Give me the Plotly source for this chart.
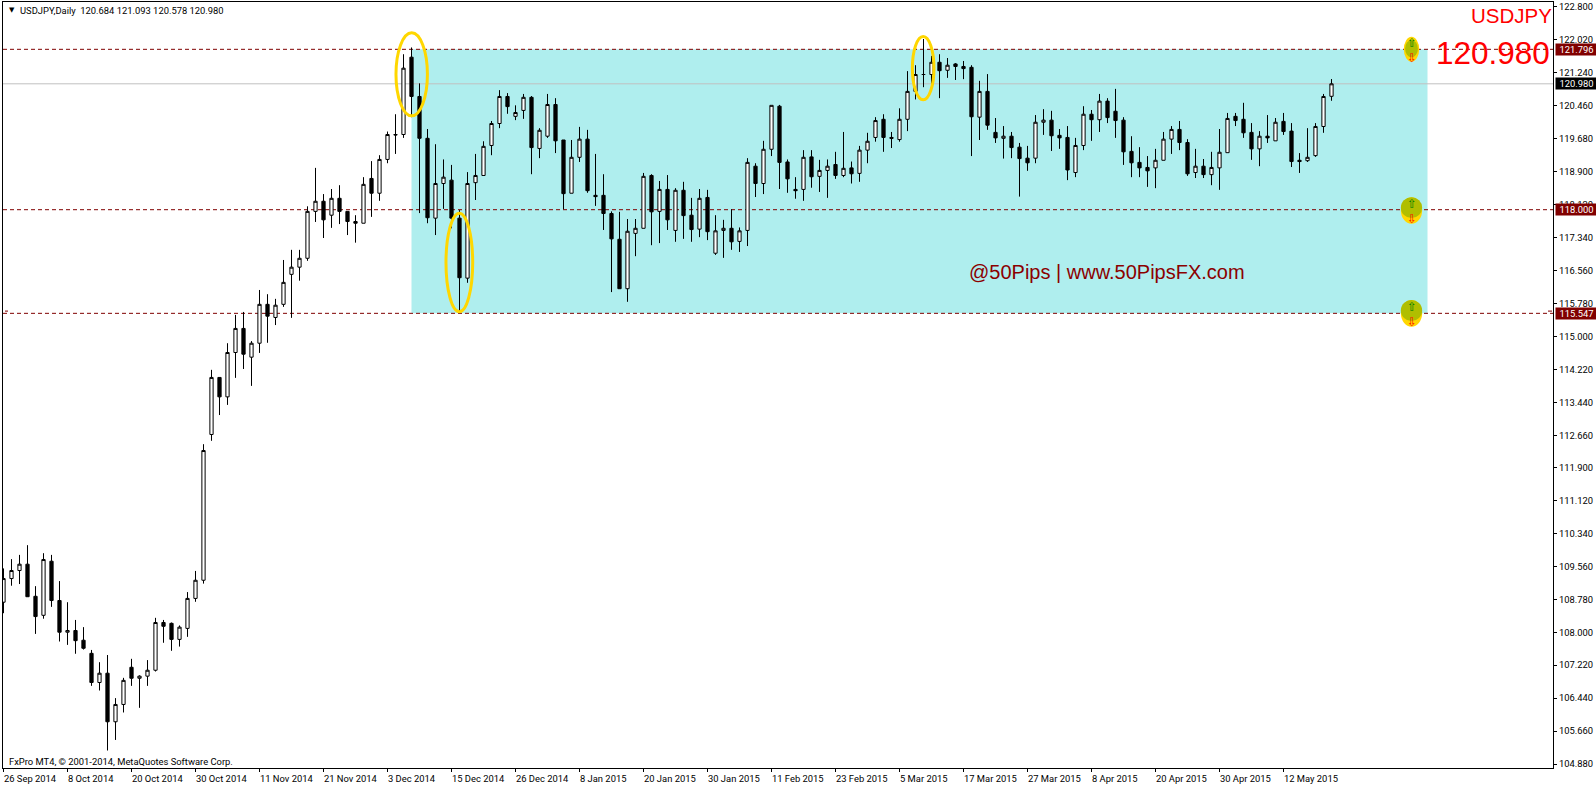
import plotly.graph_objects as go

W, H = 1596, 786
L, R, T, B = 3, 43, 2, 18

opens = [108.71,109.27,109.46,109.61,108.85,108.40,109.68,108.75,108.00,108.04,
107.81,107.50,106.81,107.03,105.88,106.29,107.17,106.91,106.96,107.10,
108.23,108.21,107.83,108.09,108.80,109.23,112.68,114.03,113.57,114.62,
115.19,114.51,114.84,115.76,115.45,115.76,116.47,116.64,116.85,117.96,
118.20,117.87,118.27,117.96,117.72,117.68,118.74,118.39,119.19,119.78,
119.78,121.61,120.68,119.69,117.80,118.62,118.70,117.80,116.38,118.64,
118.81,119.52,120.04,120.68,120.21,120.35,120.66,119.45,119.74,120.49,
119.65,118.39,119.24,119.67,118.34,118.34,117.91,117.30,116.13,117.44,
117.56,118.81,117.96,118.48,117.51,118.46,117.87,117.54,118.29,116.97,
117.51,117.56,117.25,117.51,119.03,118.62,119.43,120.45,119.13,118.48,
118.48,119.25,118.79,118.93,119.07,118.81,118.99,118.86,119.41,119.71,
120.14,119.71,119.66,120.14,120.80,121.20,121.20,121.49,121.30,121.45,
121.39,121.37,120.19,120.80,119.83,119.69,119.74,119.48,119.22,119.22,
120.07,120.12,119.76,119.71,118.88,119.52,120.26,120.13,120.57,120.33,
120.12,119.38,119.12,119.00,118.99,119.17,119.67,119.90,119.59,118.88,
119.03,118.83,118.99,119.35,120.21,120.14,119.83,119.44,119.74,119.63,
120.09,119.86,119.17,119.16,119.28,119.97,120.684]

highs = [109.51,109.73,109.83,110.06,109.09,109.87,109.83,109.21,108.71,108.29,
108.12,107.58,107.29,107.46,106.44,106.92,107.37,106.98,107.34,108.34,
108.29,108.23,108.16,108.95,109.45,112.45,114.21,114.03,114.84,115.51,
115.58,114.89,116.10,116.00,115.89,116.81,117.05,117.05,118.08,118.99,
118.37,118.49,118.58,117.96,117.87,118.77,119.15,119.29,119.85,120.26,
121.68,121.84,120.99,119.91,119.55,119.19,119.06,117.99,118.89,119.32,
119.62,120.10,120.83,120.76,120.47,120.74,120.69,119.93,120.74,120.64,
119.65,119.65,119.96,119.89,119.32,118.84,117.96,117.95,117.78,117.78,
118.87,118.84,118.68,118.82,118.51,118.66,118.28,118.49,118.47,117.87,
117.76,118.01,117.58,119.22,119.10,119.63,120.47,120.48,119.19,118.77,
119.41,119.41,119.18,119.19,119.37,119.84,119.14,119.51,119.82,120.19,
120.26,119.84,120.40,121.28,121.42,122.04,121.64,121.68,121.59,121.47,
121.52,121.42,121.05,121.21,120.17,119.98,119.84,119.58,119.51,120.24,
120.38,120.34,119.91,119.98,119.70,120.45,120.36,120.74,120.64,120.86,
120.19,119.74,119.48,119.27,119.44,119.84,119.98,120.10,119.67,119.44,
119.20,119.37,119.91,120.29,120.29,120.53,120.05,119.86,120.24,120.17,
120.29,120.05,119.34,119.93,120.05,120.74,121.093]

lows = [108.45,109.10,109.14,108.84,107.96,108.32,108.60,107.78,107.70,107.49,
107.59,106.73,106.62,105.20,105.45,106.10,106.73,106.21,106.73,107.07,
107.75,107.56,107.66,107.89,108.72,109.15,112.53,113.14,113.38,114.02,
114.23,113.83,114.61,114.85,115.27,115.70,115.44,116.32,116.79,117.71,
117.33,117.57,117.66,117.40,117.22,117.68,117.83,118.21,119.10,119.32,
119.70,120.19,117.92,117.68,117.40,118.02,117.56,115.55,116.27,118.23,
118.81,119.29,119.93,120.27,120.12,120.15,118.84,119.22,119.70,119.34,
118.01,118.39,119.13,118.40,118.09,117.52,116.05,116.13,115.82,116.90,
117.56,117.16,117.21,117.52,117.24,117.31,117.24,117.35,117.28,116.93,
116.86,117.05,117.00,117.14,118.30,118.37,119.27,118.49,118.40,118.26,
118.21,118.52,118.42,118.28,118.73,118.77,118.62,118.66,119.10,119.61,
119.37,119.46,119.61,119.86,120.61,120.90,120.90,120.64,121.12,121.07,
121.09,119.27,119.65,119.89,119.58,119.21,119.22,118.31,118.92,119.10,
119.77,119.39,119.44,118.70,118.77,119.41,119.63,119.84,120.05,119.70,
119.06,118.77,118.77,118.54,118.51,119.17,119.32,119.41,118.80,118.75,
118.75,118.58,118.47,119.35,119.98,119.70,119.18,119.03,119.58,119.63,
119.77,119.01,118.87,119.13,119.25,119.82,120.578]

closes = [109.27,109.46,109.61,108.84,108.37,109.72,108.75,108.00,108.04,107.80,
107.62,106.81,107.03,105.88,106.29,106.86,106.91,106.96,107.10,108.23,
108.14,107.83,108.12,108.80,109.23,112.30,114.03,113.57,114.62,115.19,
114.58,114.84,115.76,115.48,115.74,116.28,116.64,116.85,117.96,118.20,
117.76,118.27,117.96,117.72,117.68,118.60,118.39,119.19,119.78,119.77,
121.35,120.68,119.69,117.81,118.62,118.77,117.80,116.39,118.62,118.81,
119.50,120.04,120.68,120.44,120.30,120.66,119.47,119.88,120.49,119.63,
118.38,119.24,119.67,118.45,118.31,117.91,117.31,116.13,117.49,117.56,
118.79,117.95,118.48,117.76,118.46,117.86,117.53,118.27,117.48,117.50,
117.56,117.24,117.50,119.12,118.62,119.43,120.47,119.12,118.73,118.45,
119.24,118.78,118.93,119.03,118.81,118.98,118.85,119.41,119.62,120.11,
119.71,119.69,120.14,120.80,121.20,121.20,121.49,121.29,121.42,121.39,
121.34,120.20,120.80,120.00,119.70,119.74,119.47,119.21,119.11,120.07,
120.12,119.75,119.70,118.94,119.52,120.26,120.13,120.57,120.18,120.11,
119.37,119.11,118.99,118.92,119.17,119.67,119.90,119.59,118.85,119.03,
118.83,119.00,119.36,120.16,120.11,119.82,119.44,119.74,119.70,120.07,
119.85,119.14,119.14,119.24,119.97,120.68,120.98]

date_ticks = ["26 Sep 2014","8 Oct 2014","20 Oct 2014","30 Oct 2014","11 Nov 2014","21 Nov 2014",
              "3 Dec 2014","15 Dec 2014","26 Dec 2014","8 Jan 2015","20 Jan 2015","30 Jan 2015",
              "11 Feb 2015","23 Feb 2015","5 Mar 2015","17 Mar 2015","27 Mar 2015","8 Apr 2015",
              "20 Apr 2015","30 Apr 2015","12 May 2015"]
price_ticks = [122.80,122.02,121.24,120.46,119.68,118.90,118.12,117.34,116.56,115.78,115.00,114.22,
               113.44,112.66,111.90,111.12,110.34,109.56,108.78,108.00,107.22,106.44,105.66,104.88]
levels = [121.796, 118.000, 115.547]
last_price = 120.980
title_text = "USDJPY,Daily  120.684 121.093 120.578 120.980"
ohlc_step = 8

Y_TOP, Y_BOTTOM = 122.916, 104.786
X_LEFT, X_RIGHT = -0.0625, 193.6875
LABEL_FONT = "Roboto"
LABEL_SIZE = 9.4
DARK_RED = "#800000"
GOLD = "#FFD700"
OLIVE = "#B0BE00"

def px(x):
    return (x - L) / (W - L - R)

def py(y):
    return 1 - (y - T) / (H - T - B)

x_idx = list(range(len(opens)))

fig = go.Figure(go.Candlestick(
    x=x_idx, open=opens, high=highs, low=lows, close=closes,
    increasing=dict(line=dict(color="#000000", width=1), fillcolor="#FFFFFF"),
    decreasing=dict(line=dict(color="#000000", width=1), fillcolor="#000000"),
    whiskerwidth=0, hoverinfo="skip", showlegend=False,
))

shapes = [
    dict(type="rect", xref="x", yref="y", x0=51, x1=178, y0=levels[2], y1=levels[0],
         fillcolor="#AFEEEE", line_width=0, layer="below"),
    dict(type="line", xref="x", yref="y", x0=X_LEFT, x1=X_RIGHT, y0=last_price, y1=last_price,
         line=dict(color="#C0C0C0", width=1), layer="below"),
]
for lv in levels:
    shapes.append(dict(type="line", xref="x", yref="y", x0=X_LEFT, x1=X_RIGHT, y0=lv, y1=lv,
                       line=dict(color=DARK_RED, width=1, dash="4px,3px"), layer="below"))

# Yellow highlight ellipses
for x0, x1, y0, y1 in [(49.06, 52.99, 120.222, 122.187),
                       (55.31, 58.65, 115.583, 117.917),
                       (113.61, 116.31, 120.601, 122.099)]:
    shapes.append(dict(type="circle", xref="x", yref="y", x0=x0, x1=x1, y0=y0, y1=y1,
                       line=dict(color=GOLD, width=3), fillcolor="rgba(0,0,0,0)", layer="above"))

# Level icons
for cx, hw, g0, g1, ohw, o0, o1 in [(176, 0.96, 121.503, 122.094, 0.80, 121.607, 122.016),
                                    (176, 1.33, 117.668, 118.293, 1.33, 117.803, 118.293),
                                    (176, 1.33, 115.231, 115.863, 1.33, 115.365, 115.863)]:
    shapes.append(dict(type="circle", xref="x", yref="y", x0=cx - hw, x1=cx + hw, y0=g0, y1=g1,
                       fillcolor=GOLD, line_width=0, layer="above"))
    shapes.append(dict(type="circle", xref="x", yref="y", x0=cx - ohw, x1=cx + ohw, y0=o0, y1=o1,
                       fillcolor=OLIVE, line_width=0, layer="above"))

# Tiny price-line markers at both ends of the lowest level
shapes += [
    dict(type="line", xref="paper", yref="y", x0=px(5), x1=px(8), y0=115.60, y1=115.60,
         line=dict(color=DARK_RED, width=1)),
    dict(type="line", xref="paper", yref="y", x0=px(1548), x1=px(1552), y0=115.60, y1=115.60,
         line=dict(color=DARK_RED, width=1)),
]

ann = []
for i, txt in enumerate(date_ticks):
    ann.append(dict(xref="x", yref="paper", x=i * ohlc_step, y=py(778), text=txt, showarrow=False,
                    xanchor="left", yanchor="middle", xshift=-1.5,
                    font=dict(family=LABEL_FONT, size=LABEL_SIZE, color="#000000")))

for lv in levels:
    ann.append(dict(xref="paper", yref="y", x=px(1555), y=lv, text=f"{lv:.3f}", showarrow=False,
                    xanchor="left", yanchor="middle", width=41, height=11, align="center",
                    bgcolor=DARK_RED, borderpad=0,
                    font=dict(family=LABEL_FONT, size=LABEL_SIZE, color="#FFFFFF")))
ann.append(dict(xref="paper", yref="y", x=px(1555), y=last_price, text=f"{last_price:.3f}", showarrow=False,
                xanchor="left", yanchor="middle", width=41, height=11, align="center",
                bgcolor="#000000", borderpad=0,
                font=dict(family=LABEL_FONT, size=LABEL_SIZE, color="#FFFFFF")))

ann += [
    dict(xref="paper", yref="paper", x=px(6.5), y=py(10.5), text="\u25BC", showarrow=False,
         xanchor="left", yanchor="middle", font=dict(family="DejaVu Sans", size=7, color="#000000")),
    dict(xref="paper", yref="paper", x=px(17.5), y=py(10.5), text=title_text, showarrow=False,
         xanchor="left", yanchor="middle", font=dict(family=LABEL_FONT, size=LABEL_SIZE, color="#000000")),
    dict(xref="paper", yref="paper", x=px(7), y=py(761), text="FxPro MT4, \u00A9 2001-2014, MetaQuotes Software Corp.",
         showarrow=False, xanchor="left", yanchor="middle",
         font=dict(family=LABEL_FONT, size=LABEL_SIZE, color="#000000")),
    dict(xref="paper", yref="paper", x=px(1553.5), y=py(15.7), text="USDJPY", showarrow=False,
         xanchor="right", yanchor="middle", font=dict(family="Liberation Sans", size=20.5, color="#FF0000")),
    dict(xref="paper", yref="paper", x=px(1552), y=py(52.7), text=f"{last_price:.3f}", showarrow=False,
         xanchor="right", yanchor="middle", font=dict(family="Liberation Sans", size=31.5, color="#FF0000")),
    dict(xref="paper", yref="paper", x=px(967), y=py(272), text="@50Pips | www.50PipsFX.com", showarrow=False,
         xanchor="left", yanchor="middle", font=dict(family="Liberation Sans", size=20, color="#8B0000")),
]

for lv in levels:
    ann.append(dict(xref="x", yref="y", x=176, y=lv, yshift=6, text="\u21E7", showarrow=False,
                    font=dict(family="DejaVu Sans", size=12, color="#008000")))
    ann.append(dict(xref="x", yref="y", x=176, y=lv, yshift=-9, text="\u21E9", showarrow=False,
                    font=dict(family="DejaVu Sans", size=12, color="#FF0000")))

fig.update_layout(
    width=W, height=H,
    margin=dict(l=L, r=R, t=T, b=B, pad=0, autoexpand=False),
    paper_bgcolor="#FFFFFF", plot_bgcolor="#FFFFFF",
    showlegend=False, boxgap=0.42, hovermode=False,
    shapes=shapes, annotations=ann,
    xaxis=dict(range=[X_LEFT, X_RIGHT], rangeslider=dict(visible=False), showgrid=False, zeroline=False,
               tickmode="array", tickvals=[i * ohlc_step for i in range(len(date_ticks))],
               ticktext=[""] * len(date_ticks), ticks="outside", ticklen=3, tickwidth=1, tickcolor="#000000",
               showline=True, linecolor="#000000", linewidth=1, mirror=True),
    yaxis=dict(range=[Y_BOTTOM, Y_TOP], side="right", showgrid=False, zeroline=False,
               tickmode="array", tickvals=price_ticks, ticktext=[f"{v:.3f}" for v in price_ticks],
               ticks="outside", ticklen=3, tickwidth=1, tickcolor="#000000",
               showline=True, linecolor="#000000", linewidth=1, mirror=True,
               tickfont=dict(family=LABEL_FONT, size=LABEL_SIZE, color="#000000")),
)

fig.write_html("out.html", config={"displayModeBar": False},
               post_script="document.body.style.margin='0';document.body.style.overflow='hidden';")
